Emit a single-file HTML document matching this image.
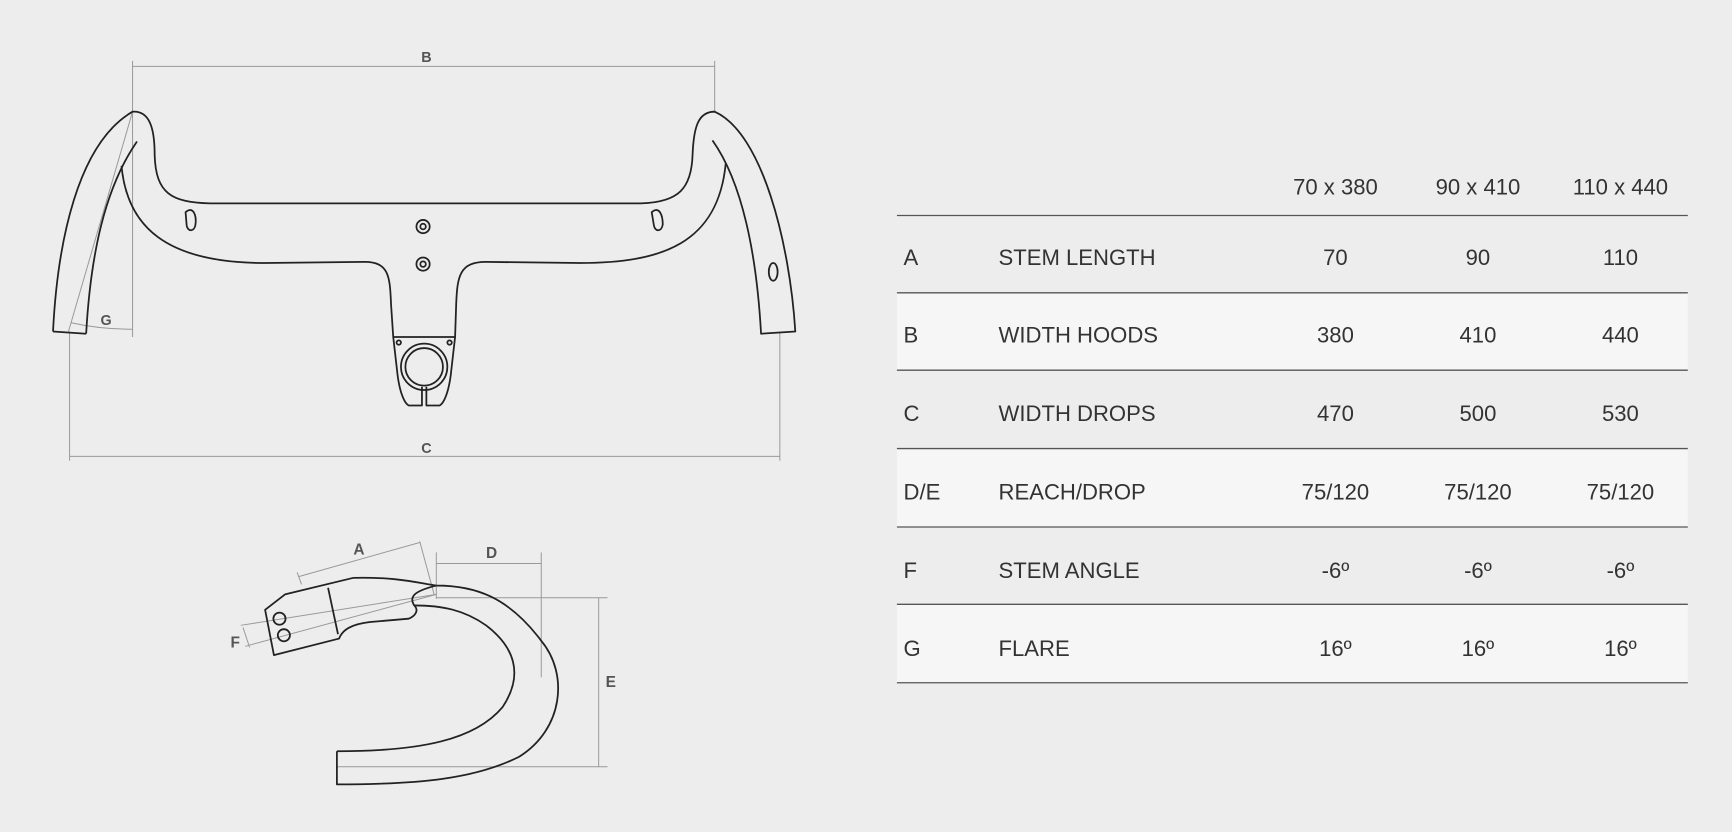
<!DOCTYPE html>
<html><head><meta charset="utf-8"><style>
html,body{margin:0;padding:0;background:#ededed;}
svg{display:block}
text{font-family:"Liberation Sans",sans-serif;}
</style></head><body>
<svg width="1732" height="832" viewBox="0 0 1568 753" xmlns="http://www.w3.org/2000/svg">
<rect width="1568" height="753" fill="#ededed"/>
<!-- table -->
<rect x="812" y="265" width="716" height="70" fill="#f6f6f6"/>
<rect x="812" y="406" width="716" height="71" fill="#f6f6f6"/>
<rect x="812" y="547" width="716" height="71" fill="#f6f6f6"/>
<g stroke="#555" stroke-width="1.2">
<line x1="812" y1="195" x2="1528" y2="195"/>
<line x1="812" y1="265" x2="1528" y2="265"/>
<line x1="812" y1="335" x2="1528" y2="335"/>
<line x1="812" y1="406" x2="1528" y2="406"/>
<line x1="812" y1="477" x2="1528" y2="477"/>
<line x1="812" y1="547" x2="1528" y2="547"/>
<line x1="812" y1="618" x2="1528" y2="618"/>
</g>
<g font-size="20" fill="#333" text-anchor="middle">
<text x="1209" y="176">70 x 380</text><text x="1338" y="176">90 x 410</text><text x="1467" y="176">110 x 440</text>
<text x="1209" y="240">70</text><text x="1338" y="240">90</text><text x="1467" y="240">110</text>
<text x="1209" y="310">380</text><text x="1338" y="310">410</text><text x="1467" y="310">440</text>
<text x="1209" y="381">470</text><text x="1338" y="381">500</text><text x="1467" y="381">530</text>
<text x="1209" y="452">75/120</text><text x="1338" y="452">75/120</text><text x="1467" y="452">75/120</text>
<text x="1209" y="523">-6º</text><text x="1338" y="523">-6º</text><text x="1467" y="523">-6º</text>
<text x="1209" y="594">16º</text><text x="1338" y="594">16º</text><text x="1467" y="594">16º</text>
</g>
<g font-size="20" fill="#333">
<text x="818" y="240">A</text><text x="904" y="240">STEM LENGTH</text>
<text x="818" y="310">B</text><text x="904" y="310">WIDTH HOODS</text>
<text x="818" y="381">C</text><text x="904" y="381">WIDTH DROPS</text>
<text x="818" y="452">D/E</text><text x="904" y="452">REACH/DROP</text>
<text x="818" y="523">F</text><text x="904" y="523">STEM ANGLE</text>
<text x="818" y="594">G</text><text x="904" y="594">FLARE</text>
</g>
<!-- top view dims -->
<g stroke="#999" stroke-width="0.9" fill="none">
<line x1="120" y1="60" x2="647" y2="60"/>
<line x1="120" y1="55" x2="120" y2="305"/>
<line x1="647" y1="55" x2="647" y2="101"/>
<line x1="63" y1="413" x2="706" y2="413"/>
<line x1="63" y1="300" x2="63" y2="417"/>
<line x1="706" y1="300" x2="706" y2="417"/>
<line x1="120" y1="101" x2="62" y2="300"/>
<path d="M64 292 Q90 298 120 298"/>
</g>
<g font-size="13" font-weight="bold" fill="#555" text-anchor="middle">
<text x="386" y="56">B</text><text x="386" y="410">C</text><text x="96" y="294">G</text>
</g>
<!-- top view bar -->
<g stroke="#222" stroke-width="1.6" fill="none" stroke-linejoin="round">
<path d="M48 300 C52 220 70 130 120 101 C135 100 140 115 140 140 C141 175 155 183 190 184 L580 184 C615 183 626 170 627 140 C628 115 632 101 647 101 C690 120 715 220 720 300 L689 302 C685 230 672 165 645 127"/>
<path d="M78 302 L48 300"/>
<path d="M78 302 C82 230 95 170 124 128"/>
<path d="M110 150 C115 205 150 238 240 238 L330 237 C352 237 353 250 354 275 L356 305 L412 305 L413 275 C414 250 416 237 440 237 L525 238 C600 238 650 220 657 148"/>
<path d="M356 305 L360 340 C362 355 366 365 370 367 L382 367 L382 350 M386 350 L386 367 L398 367 C402 365 406 355 408 340 L412 305"/>
<circle cx="384" cy="332" r="21"/><circle cx="384" cy="332" r="17"/>
<circle cx="361" cy="310" r="2"/><circle cx="407" cy="310" r="2"/>
<circle cx="383" cy="205" r="6"/><circle cx="383" cy="205" r="2.5"/>
<circle cx="383" cy="239" r="6"/><circle cx="383" cy="239" r="2.5"/>
<path d="M168 192 C175 186 178 195 177 203 C176 210 170 210 169 204 Z"/>
<path d="M590 192 C597 186 600 195 600 203 C599 210 593 210 592 204 Z"/>
<ellipse cx="700" cy="246" rx="4" ry="8"/>
</g>
<!-- side view dims -->
<g stroke="#999" stroke-width="0.9" fill="none">
<line x1="270" y1="522" x2="380" y2="491"/><line x1="269" y1="518" x2="273" y2="529"/><line x1="380" y1="490" x2="393" y2="538"/>
<line x1="395" y1="510" x2="490" y2="510"/><line x1="395" y1="500" x2="395" y2="542"/><line x1="490" y1="500" x2="490" y2="613"/>
<line x1="395" y1="541" x2="550" y2="541"/><line x1="305" y1="694" x2="550" y2="694"/><line x1="542" y1="541" x2="542" y2="694"/>
<line x1="218" y1="566" x2="395" y2="538"/><line x1="222" y1="585" x2="395" y2="538"/><line x1="220" y1="568" x2="226" y2="586"/>
</g>
<g font-size="14" font-weight="bold" fill="#555" text-anchor="middle">
<text x="325" y="502">A</text><text x="445" y="505">D</text><text x="553" y="622">E</text><text x="213" y="586">F</text>
</g>
<g stroke="#222" stroke-width="1.6" fill="none" stroke-linejoin="round">
<path d="M305 680 L305 710 C380 710 430 705 470 685 C510 660 515 610 490 580 C460 540 430 530 395 530 C380 528 360 522 320 523 L258 538 L240 552 L248 593 L307 578 C310 570 318 565 335 563 L370 560 C375 558 380 553 375 548 C370 540 375 535 395 530"/>
<path d="M305 680 C380 680 430 670 455 640 C475 610 465 585 440 566 C420 552 400 548 375 548"/>
<line x1="297" y1="532" x2="306" y2="574"/>
<circle cx="253" cy="560" r="5.5"/><circle cx="257" cy="575" r="5.5"/>
</g>
</svg>
</body></html>
